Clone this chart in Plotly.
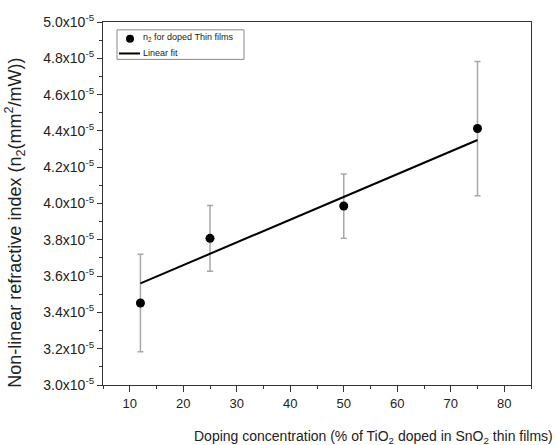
import plotly.graph_objects as go

# Data (values in mm^2/mW)
doping = [12, 25, 50, 75]
n2 = [3.452e-5, 3.808e-5, 3.986e-5, 4.413e-5]
n2_err = [0.269e-5, 0.181e-5, 0.177e-5, 0.370e-5]

fit_x = [12, 75]
fit_y = [3.560e-5, 4.350e-5]

y_tick_vals = [3.0e-5, 3.2e-5, 3.4e-5, 3.6e-5, 3.8e-5, 4.0e-5, 4.2e-5, 4.4e-5, 4.6e-5, 4.8e-5, 5.0e-5]
y_tick_text = ["3.0x10<sup>-5</sup>", "3.2x10<sup>-5</sup>", "3.4x10<sup>-5</sup>", "3.6x10<sup>-5</sup>",
               "3.8x10<sup>-5</sup>", "4.0x10<sup>-5</sup>", "4.2x10<sup>-5</sup>", "4.4x10<sup>-5</sup>",
               "4.6x10<sup>-5</sup>", "4.8x10<sup>-5</sup>", "5.0x10<sup>-5</sup>"]
y_minor_vals = [3.1e-5, 3.3e-5, 3.5e-5, 3.7e-5, 3.9e-5, 4.1e-5, 4.3e-5, 4.5e-5, 4.7e-5, 4.9e-5]
x_tick_vals = [10, 20, 30, 40, 50, 60, 70, 80]

legend_labels = ["n<sub>2</sub> for doped Thin films", "Linear fit"]
x_title = "Doping concentration (% of TiO<sub>2</sub> doped in SnO<sub>2</sub> thin films)"
y_title = "Non-linear refractive index (n<sub>2</sub>(mm<sup>2</sup>/mW))"

font_family = "Liberation Sans, Arial, sans-serif"
W, H = 556, 445
L, R, T, B = 103, 25, 16, 60
PW, PH = W - L - R, H - T - B


def px(x):
    return (x - L) / PW


def py(y):
    return 1 - (y - T) / PH


fig = go.Figure()
fig.add_trace(go.Scatter(
    x=doping, y=n2, mode="markers", name=legend_labels[0], showlegend=False,
    marker=dict(color="black", size=9, symbol="circle"),
    error_y=dict(type="data", array=n2_err, visible=True, color="#a8a8a8", thickness=1.5, width=3),
))
fig.add_trace(go.Scatter(
    x=fit_x, y=fit_y, mode="lines", name=legend_labels[1], showlegend=False,
    line=dict(color="black", width=2),
))

shapes = [
    dict(type="rect", xref="paper", yref="paper", x0=px(117), x1=px(244), y0=py(24), y1=py(54),
         line=dict(color="#888888", width=1), fillcolor="white", layer="above"),
    dict(type="circle", xref="paper", yref="paper", x0=px(126), x1=px(134), y0=py(29), y1=py(37),
         line=dict(color="black", width=0), fillcolor="black", layer="above"),
    dict(type="line", xref="paper", yref="paper", x0=px(119), x1=px(140), y0=py(48), y1=py(48),
         line=dict(color="black", width=2), layer="above"),
]

annotations = [
    dict(text=legend_labels[0], x=px(141), y=py(32), xref="paper", yref="paper", showarrow=False,
         xanchor="left", yanchor="middle", font=dict(size=9, color="#222222")),
    dict(text=legend_labels[1], x=px(141), y=py(48), xref="paper", yref="paper", showarrow=False,
         xanchor="left", yanchor="middle", font=dict(size=9, color="#222222")),
    dict(text=x_title, x=px(373), y=py(438), xref="paper", yref="paper", showarrow=False,
         xanchor="center", yanchor="middle", font=dict(size=14, color="#222222")),
    dict(text=y_title, x=px(15), y=py(220), xref="paper", yref="paper", showarrow=False,
         xanchor="center", yanchor="middle", textangle=-90, font=dict(size=18, color="#222222")),
]

fig.update_layout(
    width=W, height=H,
    margin=dict(l=L, r=R, t=T, b=B),
    paper_bgcolor="white", plot_bgcolor="white",
    font=dict(family=font_family, color="#222222", size=12),
    showlegend=False,
    shapes=shapes,
    annotations=annotations,
    xaxis=dict(
        range=[5, 85], tickvals=x_tick_vals, ticks="outside", ticklen=6, tickwidth=1,
        tickcolor="#333333", showline=True, linecolor="#333333", linewidth=1.2, mirror=True,
        showgrid=False, zeroline=False, tickfont=dict(size=13, color="#222222"),
        minor=dict(dtick=5, ticks="outside", ticklen=3, tickcolor="#333333", showgrid=False),
    ),
    yaxis=dict(
        range=[3.0e-5, 5.0e-5], tickvals=y_tick_vals, ticktext=y_tick_text,
        ticks="outside", ticklen=5, tickwidth=1, tickcolor="#333333",
        showline=True, linecolor="#333333", linewidth=1.2, mirror=True,
        showgrid=False, zeroline=False, tickfont=dict(size=14, color="#222222"),
        minor=dict(tickvals=y_minor_vals, ticks="outside", ticklen=3, tickcolor="#333333", showgrid=False),
    ),
)

fig.write_html("out.html")
